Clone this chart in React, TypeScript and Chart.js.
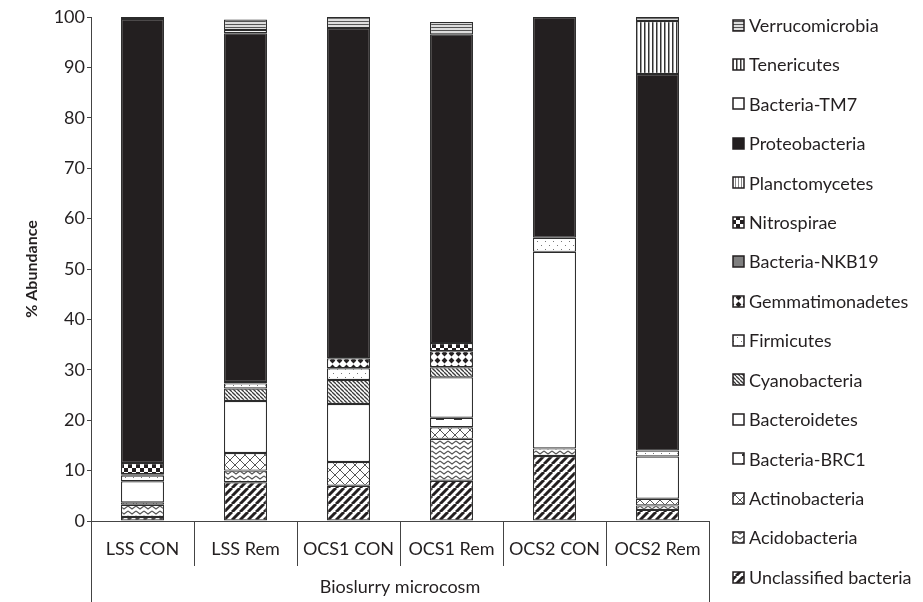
import React, { useEffect, useRef } from 'react';
import { Chart, registerables } from 'chart.js';

Chart.register(...registerables);

const DARK = '#231f20';
const FONT = 'Lato, "Open Sans", sans-serif';

const categories = ['LSS CON', 'LSS Rem', 'OCS1 CON', 'OCS1 Rem', 'OCS2 CON', 'OCS2 Rem'];
const yTicks = [0, 10, 20, 30, 40, 50, 60, 70, 80, 90, 100];
const xTitle = 'Bioslurry microcosm';
const yTitle = '% Abundance';

// bottom-to-top stacking order
const seriesNames = [
  'Unclassified bacteria', 'Acidobacteria', 'Actinobacteria', 'Bacteria-BRC1', 'Bacteroidetes',
  'Cyanobacteria', 'Firmicutes', 'Gemmatimonadetes', 'Bacteria-NKB19', 'Nitrospirae',
  'Planctomycetes', 'Proteobacteria', 'Bacteria-TM7', 'Tenericutes', 'Verrucomicrobia',
];
const unclassified = [0.8, 7.7, 7.0, 8.0, 12.9, 2.2];
const acidobacteria = [2.4, 2.3, 0, 8.3, 1.5, 0.9];
const actinobacteria = [0.5, 3.5, 4.7, 2.3, 0, 1.3];
const brc1 = [0, 0, 0, 1.9, 0, 0];
const bacteroidetes = [4.2, 10.3, 11.5, 8.0, 39.0, 8.4];
const cyanobacteria = [0, 2.5, 4.8, 2.0, 0, 0];
const firmicutes = [1.1, 1.0, 2.3, 0, 2.8, 1.2];
const gemmatimonadetes = [0.3, 0, 2.0, 3.2, 0, 0];
const nkb19 = [0, 0, 0, 0, 0, 0];
const nitrospirae = [2.2, 0, 0, 1.6, 0, 0];
const planctomycetes = [0, 0.3, 0, 0, 0, 0];
const proteobacteria = [88.1, 69.2, 65.5, 61.2, 43.8, 74.7];
const tm7 = [0, 0.6, 0, 0, 0, 0];
const tenericutes = [0, 0, 0, 0, 0, 10.5];
const verrucomicrobia = [0.4, 2.1, 2.2, 2.5, 0, 0.8];

const seriesValues = [
  unclassified, acidobacteria, actinobacteria, brc1, bacteroidetes, cyanobacteria, firmicutes,
  gemmatimonadetes, nkb19, nitrospirae, planctomycetes, proteobacteria, tm7, tenericutes, verrucomicrobia,
];
const seriesPatterns = [
  'wideDiag', 'zigzag', 'lattice', 'dashes', 'white', 'denseDiag', 'dots',
  'diamonds', 'gray', 'checker', 'thinVert', 'black', 'white', 'vert', 'horiz',
];

function makePattern(kind: string): CanvasPattern | string {
  if (kind === 'white') return '#ffffff';
  if (kind === 'black') return DARK;
  if (kind === 'gray') return '#7f7f7f';
  const c = document.createElement('canvas');
  const g = c.getContext('2d')!;
  const set = (w: number, h: number) => {
    c.width = w; c.height = h;
    g.fillStyle = '#ffffff';
    g.fillRect(0, 0, w, h);
  };
  switch (kind) {
    case 'wideDiag': {
      set(8, 8);
      g.strokeStyle = DARK; g.lineWidth = 3;
      for (const o of [-8, 0, 8]) { g.beginPath(); g.moveTo(o, 8); g.lineTo(o + 8, 0); g.stroke(); }
      break;
    }
    case 'denseDiag': {
      set(4, 4);
      g.strokeStyle = '#3a3a3a'; g.lineWidth = 1.3;
      for (const o of [-4, 0, 4]) { g.beginPath(); g.moveTo(o, 0); g.lineTo(o + 4, 4); g.stroke(); }
      break;
    }
    case 'zigzag': {
      set(8, 5);
      g.strokeStyle = '#555555'; g.lineWidth = 1.1;
      g.beginPath(); g.moveTo(0, 1); g.lineTo(4, 4); g.lineTo(8, 1); g.stroke();
      break;
    }
    case 'lattice': {
      set(10, 10);
      g.strokeStyle = '#555555'; g.lineWidth = 1;
      g.beginPath(); g.moveTo(0, 0); g.lineTo(10, 10); g.moveTo(10, 0); g.lineTo(0, 10); g.stroke();
      break;
    }
    case 'dashes': {
      set(18, 9);
      g.fillStyle = '#333333';
      g.fillRect(4, 4, 8, 2);
      break;
    }
    case 'dots': {
      set(8, 8);
      g.fillStyle = '#777777';
      g.fillRect(1, 1, 1, 1); g.fillRect(5, 5, 1, 1);
      break;
    }
    case 'diamonds': {
      set(7, 7);
      g.fillStyle = DARK;
      g.beginPath(); g.moveTo(3.5, 0.6); g.lineTo(6.4, 3.5); g.lineTo(3.5, 6.4); g.lineTo(0.6, 3.5); g.closePath(); g.fill();
      break;
    }
    case 'checker': {
      set(8, 8);
      g.fillStyle = DARK;
      g.fillRect(0, 0, 4, 4); g.fillRect(4, 4, 4, 4);
      break;
    }
    case 'thinVert': {
      set(3, 1);
      g.fillStyle = '#888888';
      g.fillRect(0, 0, 1, 1);
      break;
    }
    case 'vert': {
      set(4, 1);
      g.fillStyle = '#333333'; g.fillRect(0, 0, 1, 1);
      g.fillStyle = '#999999'; g.fillRect(1, 0, 1, 1);
      break;
    }
    case 'horiz': {
      set(1, 3);
      g.fillStyle = '#555555'; g.fillRect(0, 0, 1, 1);
      g.fillStyle = '#dddddd'; g.fillRect(0, 1, 1, 2);
      break;
    }
    default:
      return '#ffffff';
  }
  return g.createPattern(c, 'repeat') || '#ffffff';
}

const decorPlugin = {
  id: 'decor',
  afterDraw(chart: any) {
    const { ctx, chartArea, scales } = chart;
    const x = scales.x;
    const n = categories.length;
    const step = (x.right - x.left) / n;
    ctx.save();
    ctx.strokeStyle = '#444444';
    ctx.lineWidth = 1;
    for (let i = 0; i <= n; i++) {
      const px = Math.round(x.left + i * step) + 0.5;
      const end = i === 0 || i === n ? chart.height : chartArea.bottom + 45;
      ctx.beginPath(); ctx.moveTo(px, chartArea.bottom); ctx.lineTo(px, end); ctx.stroke();
    }
    // legend (top item = last series)
    const items = seriesNames.map((name, i) => ({ name, i })).reverse();
    ctx.font = `18px ${FONT}`;
    ctx.textBaseline = 'middle';
    ctx.textAlign = 'left';
    items.forEach((it, k) => {
      const cy = 25 + k * 39.43;
      const ds = chart.data.datasets[it.i];
      ctx.fillStyle = ds.backgroundColor;
      ctx.fillRect(733, Math.round(cy - 5.5), 11, 11);
      ctx.strokeStyle = DARK;
      ctx.lineWidth = 1.5;
      ctx.strokeRect(733, Math.round(cy - 5.5), 11, 11);
      ctx.fillStyle = DARK;
      ctx.fillText(it.name, 749, cy + 1);
    });
    ctx.restore();
  },
};

export default function App() {
  const ref = useRef<HTMLCanvasElement | null>(null);
  useEffect(() => {
    document.body.style.margin = '0';
    const canvas = ref.current!;
    const datasets = seriesNames.map((name, i) => ({
      label: name,
      data: seriesValues[i],
      backgroundColor: makePattern(seriesPatterns[i]),
      borderColor: '#2b2b2b',
      borderWidth: 1.2,
      borderSkipped: false,
      categoryPercentage: 1,
      barPercentage: 0.417,
    }));
    const chart = new Chart(canvas, {
      type: 'bar',
      data: { labels: categories, datasets },
      options: {
        animation: false,
        responsive: false,
        layout: { padding: { top: 17, right: 214, left: 0, bottom: 0 } },
        plugins: { legend: { display: false }, tooltip: { enabled: false } },
        scales: {
          x: {
            stacked: true,
            grid: { display: false, drawTicks: false },
            border: { display: true, color: '#444444', width: 1 },
            ticks: { color: DARK, font: { family: FONT, size: 18 }, padding: 17, maxRotation: 0, autoSkip: false },
            title: { display: true, text: xTitle, color: DARK, font: { family: FONT, size: 18 }, padding: { top: 4, bottom: 4 } },
            afterFit: (s: any) => { s.height = 81; },
          },
          y: {
            stacked: true,
            min: 0,
            max: 100,
            afterBuildTicks: (s: any) => { s.ticks = yTicks.map((v) => ({ value: v })); },
            grid: { display: true, drawOnChartArea: false, drawTicks: true, tickLength: 4, color: '#444444' },
            border: { display: true, color: '#444444', width: 1 },
            ticks: { color: DARK, font: { family: FONT, size: 18 }, padding: 2 },
            title: { display: true, text: yTitle, color: DARK, font: { family: FONT, size: 16, weight: 'bold' }, padding: { top: 22, bottom: 0 } },
            afterFit: (s: any) => { s.width = 91; },
          },
        },
      },
      plugins: [decorPlugin],
    });
    return () => chart.destroy();
  }, []);
  return (
    <div style={{ width: 923, height: 602 }}>
      <canvas ref={ref} width={923} height={602} />
    </div>
  );
}
